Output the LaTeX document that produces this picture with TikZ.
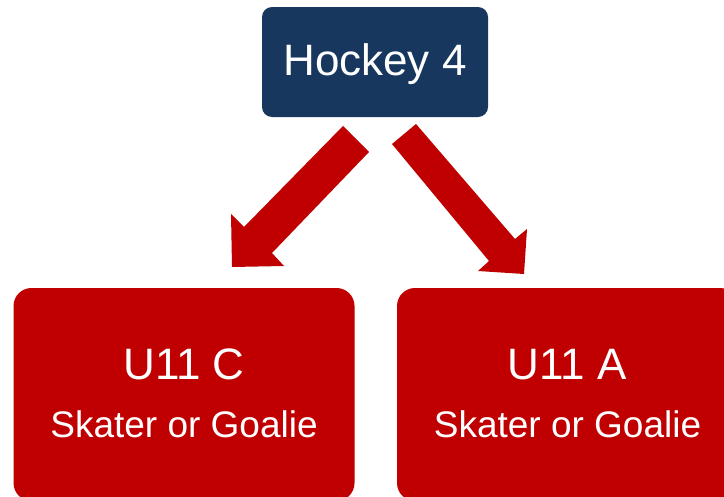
\documentclass[tikz,border=0pt]{standalone}
\usepackage{fontspec}
\setmainfont{Liberation Sans}
\definecolor{navy}{HTML}{17375E}
\definecolor{hred}{HTML}{C00000}
\tikzset{
  topbox/.style={draw=none, fill=navy, rounded corners=7.5pt, minimum width=226*0.75pt, minimum height=110*0.75pt, inner sep=0pt},
  redbox/.style={draw=none, fill=hred, rounded corners=13.5pt, minimum width=341*0.75pt, minimum height=213*0.75pt, inner sep=0pt},
  bigtxt/.style={text=white, font=\fontsize{33}{36}\selectfont, anchor=base, inner sep=0pt},
  smalltxt/.style={text=white, font=\fontsize{27.75}{30}\selectfont, anchor=base, inner sep=0pt},
  blockarrow/.style={fill=hred, draw=none}
}
\begin{document}
\begin{tikzpicture}[x=0.75pt,y=-0.75pt]
\useasboundingbox (0,0) rectangle (724,496);
\clip (0,0) rectangle (724,496);
\fill[white] (0,0) rectangle (724,496);
% boxes
\node[topbox] (top) at (375,62) {};
\node[bigtxt] (toptxt) at (375,75) {Hockey 4};
\node[redbox] (left) at (184,394.5) {};
\node[bigtxt] (lefttitle) at (184,379) {U11 C};
\node[smalltxt] (leftsub) at (184,437) {Skater or Goalie};
\node[redbox] (right) at (567.5,394.5) {};
\node[bigtxt] (righttitle) at (567.5,379) {U11 A};
\node[smalltxt] (rightsub) at (567.5,437) {Skater or Goalie};
% block arrows
\fill[blockarrow] (343,126) -- (369,152) -- (272,253) -- (284,266) -- (232,267) -- (231,214) -- (244,227) -- cycle;
\fill[blockarrow] (392,144) -- (416,124) -- (515,239) -- (527,229) -- (524,274) -- (478,271) -- (489,261) -- cycle;
\end{tikzpicture}
\end{document}
